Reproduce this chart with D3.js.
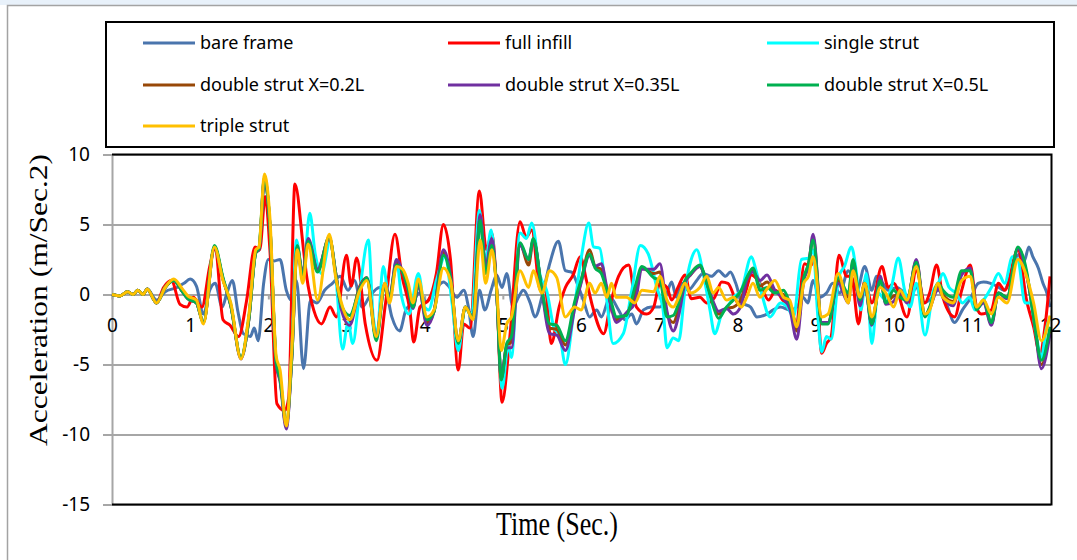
<!DOCTYPE html>
<html>
<head>
<meta charset="utf-8">
<script src="https://cdn.jsdelivr.net/npm/d3@7/dist/d3.min.js"></script>
<style>
    html, body {margin: 0; padding: 0; background: #fff;}
    #container {width: 1077px; height: 560px;}
    .tickLabel {font-family: 'Noto Sans', sans-serif; font-size: 19px; fill: #000;}
    .legendText {font-family: 'Noto Sans', sans-serif; font-size: 18px; fill: #000;}
    .axisTitle {font-family: 'Liberation Serif', 'Times New Roman', serif; fill: #000;}
</style>
</head>
<body>
<div id="container"></div>
<script>
// 刻度
const xTicks = [0, 1, 2, 3, 4, 5, 6, 7, 8, 9, 10, 11, 12];
const yTicks = [-15, -10, -5, 0, 5, 10];

// 系列名称
const seriesNames = [
    'bare frame', 'full infill', 'single strut',
    'double strut X=0.2L', 'double strut X=0.35L', 'double strut X=0.5L',
    'triple strut'
];

// bare frame: [time, acceleration]
const bareFrame = [
    [0, 0], [0.1, -0.1], [0.2, 0.2], [0.27, 0], [0.33, 0.3], [0.4, 0], [0.45, 0.4], [0.57, -0.4],
    [0.68, 0.2], [0.83, 0.5], [0.92, 0.8], [1.0, 1.1], [1.08, 0.6], [1.17, -1.4], [1.25, 0.3],
    [1.32, 0.8], [1.41, -0.9], [1.47, 0.1], [1.54, 1.0], [1.61, -1.2], [1.68, -2.8], [1.77, -3.0],
    [1.82, -2.4], [1.87, -3.3], [1.94, 0.8], [2.0, 2.5], [2.08, 2.4], [2.15, 2.5], [2.23, 0.3],
    [2.29, -0.4], [2.36, 1.0], [2.45, -5.3], [2.54, -0.4], [2.62, -0.6], [2.72, 0.3], [2.82, 0.8],
    [2.92, 1.3], [3.02, 0.3], [3.1, 1.0], [3.2, -0.9], [3.29, -0.2], [3.42, 0.5], [3.5, 0.3],
    [3.58, -1.6], [3.68, -2.6], [3.76, -1.1], [3.85, -0.6], [3.93, 0.1], [4.02, -0.5], [4.11, 0.1],
    [4.24, 0.9], [4.32, 0.5], [4.41, -0.2], [4.5, 0.3], [4.56, -0.9], [4.62, -3.0], [4.7, 0.3],
    [4.77, -1.1], [4.85, 0.3], [4.92, 1.4], [4.99, 0.5], [5.05, 1.5], [5.13, -0.9], [5.2, -0.2],
    [5.26, 0.3], [5.35, -0.6], [5.41, -1.6], [5.52, 0.3], [5.6, 2.2], [5.71, 3.8], [5.8, 1.7],
    [5.88, 1.6], [5.95, 0.8], [6.03, -0.4], [6.11, -1.6], [6.2, -1.1], [6.26, -1.6], [6.37, -0.2],
    [6.48, -1.1], [6.56, -1.8], [6.65, -1.4], [6.71, -2.1], [6.8, -1.1], [6.9, -0.9], [7.01, -0.9],
    [7.1, 0.1], [7.16, 0.9], [7.22, -0.2], [7.29, 0.8], [7.37, 0.3], [7.48, 1.0], [7.56, 1.5],
    [7.67, 1.3], [7.76, 1.7], [7.85, 1.3], [7.91, 1.6], [7.98, 0.8], [8.06, -0.6], [8.17, -0.9],
    [8.25, -1.6], [8.38, -1.4], [8.46, -1.1], [8.55, -0.9], [8.68, -1.1], [8.76, -0.9], [8.84, -0.2],
    [8.9, -0.6], [8.97, 1.0], [9.05, -0.2], [9.14, 0.1], [9.22, 0.8], [9.31, 0.1], [9.42, 1.7],
    [9.53, 0.3], [9.63, 2.0], [9.72, 0.3], [9.78, 1.3], [9.86, 0.8], [9.93, 0.3], [10.04, 0.5],
    [10.14, 0.1], [10.21, -0.2], [10.29, 0.5], [10.38, -0.6], [10.46, -0.4], [10.57, 0.3],
    [10.67, -0.6], [10.78, -2.0], [10.88, -1.1], [10.99, -0.2], [11.08, 0.8], [11.15, 0.9],
    [11.24, 0.8], [11.32, 0.6], [11.41, 0.3], [11.5, 1.3], [11.61, 2.9], [11.67, 2.4], [11.73, 3.4],
    [11.78, 2.7], [11.85, 1.9], [11.91, 0.8], [11.96, 0.1], [12.0, -0.9]
];

// full infill
const fullInfill = [
    [0, 0], [0.1, -0.1], [0.2, 0.2], [0.27, 0], [0.33, 0.3], [0.4, 0], [0.45, 0.4], [0.57, -0.6],
    [0.66, 0.5], [0.76, 1.0], [0.87, -0.7], [0.96, -0.9], [1.04, -0.2], [1.15, -0.9], [1.25, 2.0],
    [1.32, 3.4], [1.42, -1.8], [1.51, -2.2], [1.62, -3.0], [1.72, -0.5], [1.83, 3.4], [1.89, 3.2],
    [1.96, 7.0], [2.02, 3.2], [2.11, -7.8], [2.21, -8.3], [2.26, -7.4], [2.34, 7.9], [2.45, 3.2],
    [2.49, 1.3], [2.58, -1.1], [2.68, -2.1], [2.79, -0.9], [2.87, -1.6], [3.0, 2.8], [3.06, 0.6],
    [3.13, 2.6], [3.24, -2.1], [3.39, -4.7], [3.5, -0.6], [3.62, 4.3], [3.71, 1.3], [3.81, -1.1],
    [3.86, -3.4], [3.94, -0.9], [4.05, -0.4], [4.15, 1.5], [4.24, 5.0], [4.33, 2.5], [4.43, -5.4],
    [4.5, -2.1], [4.58, -2.4], [4.7, 7.4], [4.79, 3.2], [4.86, 4.4], [4.92, 0.4], [4.99, -7.7],
    [5.09, -3.0], [5.22, 5.2], [5.3, 4.1], [5.37, 4.6], [5.48, 0.3], [5.54, 0.5], [5.62, -3.5],
    [5.72, -0.9], [5.8, 0.5], [5.9, 1.4], [5.99, 2.7], [6.07, 1.0], [6.15, -0.9], [6.29, -2.8],
    [6.38, -0.6], [6.48, 1.3], [6.61, 2.1], [6.71, -0.9], [6.84, -1.4], [6.93, -0.9], [7.01, 0.8],
    [7.1, 0.5], [7.16, -0.4], [7.24, 0.5], [7.33, 1.4], [7.41, -0.3], [7.52, -0.2], [7.61, -0.6],
    [7.71, -0.2], [7.8, 0.9], [7.88, 0.8], [8.01, -0.6], [8.1, 0.1], [8.18, 1.4], [8.29, 0.8],
    [8.4, -0.4], [8.49, 0.3], [8.58, -0.4], [8.68, -0.9], [8.75, -2.1], [8.86, 2.2], [8.93, 2.0],
    [8.99, 2.5], [9.08, -4.2], [9.14, -3.5], [9.2, -3.0], [9.3, 2.8], [9.4, 1.3], [9.46, 1.3],
    [9.55, -2.1], [9.63, 1.0], [9.72, -0.6], [9.85, 2.0], [9.93, 0.5], [10.0, 0.8], [10.17, -1.6],
    [10.29, 1.7], [10.4, -0.6], [10.46, 0.1], [10.55, 2.1], [10.63, -0.2], [10.78, -1.6],
    [10.87, 0.3], [10.98, 2.1], [11.06, -0.9], [11.12, -1.4], [11.25, -1.1], [11.34, 0.8],
    [11.42, 0.3], [11.59, 3.2], [11.7, -0.4], [11.79, -2.3], [11.87, -4.2], [11.94, -2.1], [12.0, 1.3]
];

// single strut
const singleStrut = [
    [0, 0], [0.1, -0.1], [0.2, 0.2], [0.27, 0], [0.33, 0.3], [0.4, 0], [0.45, 0.4], [0.57, -0.6],
    [0.68, 0.5], [0.79, 1.0], [0.9, 0.3], [0.97, -0.2], [1.08, -0.5], [1.17, -2.0], [1.31, 3.4],
    [1.42, 1.1], [1.52, -0.7], [1.65, -4.5], [1.75, -1.6], [1.84, 3.0], [1.88, 3.3], [1.95, 8.3],
    [2.02, 5.0], [2.1, -4.8], [2.15, -6.0], [2.23, -9.4], [2.3, -4.0], [2.36, 3.9], [2.44, 1.0],
    [2.53, 5.8], [2.6, 2.9], [2.68, 1.5], [2.79, 3.8], [2.86, 1.5], [2.95, -3.9], [3.02, -2.0],
    [3.08, -3.5], [3.17, 0.3], [3.28, 3.9], [3.34, -1.5], [3.39, -2.8], [3.47, 2.0], [3.55, -0.4],
    [3.64, 2.5], [3.7, 0.0], [3.8, -1.4], [3.92, 1.5], [4.0, -0.9], [4.05, -1.1], [4.15, 1.0],
    [4.26, 2.7], [4.35, -0.6], [4.43, -4.0], [4.52, -0.9], [4.6, -1.6], [4.7, 6.0], [4.78, 2.4],
    [4.85, 4.6], [4.92, 0.3], [4.99, -6.7], [5.07, -3.6], [5.11, -4.5], [5.22, 4.4], [5.3, 4.0],
    [5.37, 5.1], [5.48, 1.3], [5.56, 0.3], [5.65, -2.3], [5.73, -3.0], [5.8, -5.0], [5.9, -1.6],
    [6.0, 2.5], [6.1, 5.1], [6.16, 3.4], [6.24, 3.3], [6.32, 0.1], [6.41, -3.5], [6.54, -2.8],
    [6.65, 0.3], [6.76, 3.5], [6.86, 2.9], [6.97, 0.5], [7.05, -1.1], [7.1, -3.8], [7.18, -3.1],
    [7.25, -3.3], [7.33, 0.3], [7.41, 2.5], [7.48, 3.2], [7.57, 1.3], [7.65, -1.1], [7.71, -2.8],
    [7.8, -1.4], [7.87, -0.9], [7.95, -0.2], [8.05, 0.3], [8.18, 2.7], [8.24, 1.7], [8.31, 0.1],
    [8.42, -1.6], [8.55, -0.6], [8.64, -0.9], [8.72, -1.6], [8.82, 2.5], [8.91, 2.6], [8.97, 3.2],
    [9.03, -1.6], [9.08, -4.1], [9.14, -3.0], [9.2, -3.2], [9.3, 1.3], [9.37, 2.0], [9.46, 3.4],
    [9.52, 1.7], [9.58, -1.1], [9.65, 1.5], [9.72, -3.5], [9.8, 0.1], [9.9, -0.4], [9.97, 0.5],
    [10.06, 2.6], [10.14, 0.3], [10.21, -0.9], [10.29, 0.8], [10.4, -2.9], [10.51, 0.3],
    [10.57, 0.8], [10.63, 1.5], [10.71, 0.5], [10.8, 0.1], [10.88, -0.6], [10.97, -0.2],
    [11.04, -1.1], [11.15, -0.4], [11.25, 0.5], [11.34, 1.5], [11.42, 0.8], [11.52, 2.7],
    [11.59, 2.5], [11.68, -0.6], [11.75, -0.6], [11.82, -2.8], [11.89, -4.5], [11.95, -2.5], [12.0, -1.6]
];

// 四条支撑曲线共用的时间点
const strutTime = [
    0, 0.1, 0.2, 0.27, 0.33, 0.4, 0.45, 0.57, 0.68, 0.79,
    0.9, 0.97, 1.08, 1.17, 1.31, 1.42, 1.52, 1.65, 1.75, 1.84,
    1.88, 1.95, 2.02, 2.1, 2.15, 2.23, 2.3, 2.37, 2.44, 2.51,
    2.63, 2.78, 2.86, 2.93, 3.04, 3.17, 3.26, 3.38, 3.49, 3.55,
    3.64, 3.72, 3.79, 3.85, 3.92, 4.03, 4.12, 4.24, 4.33, 4.43,
    4.52, 4.62, 4.71, 4.78, 4.86, 4.92, 4.98, 5.05, 5.11, 5.22,
    5.33, 5.39, 5.5, 5.6, 5.69, 5.8, 5.92, 6.0, 6.11, 6.18,
    6.26, 6.33, 6.39, 6.45, 6.58, 6.69, 6.78, 6.93, 7.01, 7.1,
    7.18, 7.25, 7.33, 7.4, 7.52, 7.61, 7.69, 7.76, 7.86, 7.95,
    8.05, 8.12, 8.2, 8.29, 8.38, 8.48, 8.59, 8.67, 8.76, 8.85,
    8.91, 8.97, 9.08, 9.16, 9.29, 9.42, 9.48, 9.57, 9.63, 9.72,
    9.83, 9.9, 10.0, 10.08, 10.17, 10.29, 10.4, 10.46, 10.57, 10.63,
    10.76, 10.87, 10.98, 11.06, 11.15, 11.25, 11.34, 11.45, 11.59, 11.7,
    11.79, 11.89, 12.0
];

const doubleStrut02 = [
    0, -0.1, 0.2, 0.0, 0.3, 0.0, 0.4, -0.6, 0.5, 1.0,
    0.2, -0.3, -0.6, -2.0, 3.4, 1.1, -0.8, -4.5, -1.8, 3.0,
    3.2, 8.3, 5.0, -4.9, -6.1, -9.4, -4.5, 3.2, 1.4, 3.9,
    1.7, 4.1, 1.6, -0.8, -1.8, 0.6, 1.2, -3.1, 0.7, -0.2,
    2.3, 1.6, 0.4, -0.9, 0.7, -2.0, -1.2, 3.0, 1.3, -3.4,
    -0.9, -1.7, 5.5, 1.8, 3.8, 0.4, -6.0, -3.6, -3.4, 3.6,
    2.1, 3.9, 0.3, -2.4, -2.5, -3.6, -0.8, 0.9, 3.2, 2.0,
    1.8, 0.4, -0.8, -1.8, -1.4, 0.0, 1.9, 1.5, 1.6, -1.4,
    -2.0, -1.0, 0.9, 1.4, 2.0, 0.8, -0.6, -1.4, -1.0, -0.9,
    -0.3, 1.1, 1.7, 0.6, 0.9, 0.2, 0.0, -0.8, -2.6, 1.1,
    2.1, 4.1, -2.0, -2.0, 1.0, -0.2, 2.4, -0.6, 0.8, -2.1,
    1.1, -0.6, -0.1, 0.0, -0.5, 2.4, -1.5, -1.0, 0.6, 0.0,
    -0.5, 1.5, 1.8, -1.0, -0.5, -2.1, 0.1, -0.2, 3.3, 1.5,
    -1.5, -5.0, -2.5
];

const doubleStrut035 = [
    0, -0.1, 0.2, 0.0, 0.3, 0.0, 0.4, -0.6, 0.5, 1.0,
    0.2, -0.3, -0.6, -2.0, 3.3, 1.1, -0.8, -4.6, -1.8, 3.0,
    3.2, 8.2, 5.0, -5.0, -6.2, -9.6, -4.6, 3.4, 1.5, 4.0,
    1.8, 4.0, 1.6, -1.0, -2.2, 0.5, 1.2, -3.0, 0.8, -0.2,
    2.5, 1.6, 0.3, -1.0, 0.6, -2.2, -1.2, 3.2, 1.4, -3.4,
    -0.9, -1.7, 5.7, 2.0, 4.0, 0.4, -5.9, -3.8, -3.8, 3.5,
    2.5, 3.9, 0.2, -2.8, -2.9, -4.0, -1.0, 0.8, 2.8, 2.0,
    2.2, 0.5, -1.0, -2.0, -1.3, -0.6, 1.8, 1.8, 2.2, -1.2,
    -2.6, -1.5, 0.8, 1.4, 2.0, 0.8, -0.5, -1.2, -1.0, -1.4,
    -0.8, 1.0, 1.6, 1.0, 1.4, 0.3, -0.3, -1.0, -3.2, 1.0,
    2.0, 4.3, -2.0, -2.0, 0.8, -0.6, 2.3, -0.8, 0.7, -2.2,
    1.3, -0.7, -0.5, 0.2, -0.6, 2.5, -1.5, -1.0, 0.4, -0.2,
    -0.8, 1.4, 1.9, -1.0, -0.6, -2.2, 0.1, -0.3, 3.3, 1.4,
    -1.4, -5.3, -2.8
];

const doubleStrut05 = [
    0, -0.1, 0.2, 0.0, 0.3, 0.0, 0.4, -0.6, 0.5, 1.0,
    0.2, -0.3, -0.6, -2.0, 3.5, 1.2, -0.8, -4.5, -1.8, 3.0,
    3.3, 8.4, 5.0, -4.8, -6.0, -9.2, -4.5, 3.5, 1.2, 3.8,
    1.6, 4.1, 1.5, -0.7, -1.5, 0.4, 1.2, -3.3, 0.6, -0.3,
    2.1, 1.6, 0.4, -0.9, 0.8, -1.8, -1.2, 2.8, 1.2, -3.5,
    -0.9, -1.7, 5.3, 1.5, 3.5, 0.4, -6.1, -3.5, -3.0, 3.7,
    2.5, 4.0, 0.3, -2.1, -2.2, -3.3, -0.5, 1.0, 2.9, 1.9,
    1.5, 0.3, -0.6, -1.6, -1.5, 0.5, 2.0, 1.2, 1.0, -1.6,
    -1.5, -0.6, 1.0, 1.5, 2.1, 0.8, -0.8, -1.7, -0.9, -0.4,
    0.3, 1.2, 1.9, 0.3, 0.5, 0.1, 0.3, -0.6, -2.1, 1.2,
    2.2, 3.9, -2.1, -2.1, 1.2, 0.1, 2.5, -0.4, 0.8, -2.1,
    1.0, -0.6, 0.3, -0.2, -0.4, 2.3, -1.6, -0.9, 0.8, 0.3,
    -0.2, 1.7, 1.7, -1.1, -0.4, -2.0, 0.1, -0.2, 3.4, 1.7,
    -1.6, -4.7, -2.3
];

const tripleStrut = [
    0, -0.1, 0.2, 0.0, 0.3, 0.0, 0.4, -0.6, 0.5, 1.1,
    0.4, -0.1, -0.4, -2.1, 3.4, 1.0, -0.6, -4.6, -1.5, 3.2,
    3.4, 8.6, 5.5, -4.4, -5.4, -9.4, -4.0, 3.2, 0.8, 3.6,
    -0.4, 4.3, 1.3, -0.5, -1.8, 0.3, 1.0, -3.0, 0.8, -0.6,
    2.0, 1.8, 0.8, -0.6, 1.1, -1.6, -1.1, 1.9, 1.0, -3.3,
    -0.9, -1.8, 3.9, 0.8, 3.2, 0.5, -4.0, -2.1, -1.6, 1.7,
    0.5, 1.7, 0.1, 1.7, 1.2, -1.6, -0.9, -1.1, 0.8, 0.1,
    0.8, -0.2, 0.8, -0.2, -0.2, -0.6, 0.3, 0.2, 1.3, -0.4,
    -0.9, -0.2, 0.8, 0.1, 0.5, 1.3, 0.1, 0.5, -0.4, -0.2,
    -0.9, -0.2, 0.8, -0.2, 0.4, 1.0, -0.2, -0.4, -2.3, 0.8,
    1.3, 2.7, -1.6, -1.4, 1.5, -0.6, 1.7, -0.2, 0.8, -1.6,
    0.5, 0.1, -0.9, 0.3, -0.4, 2.0, -1.4, -1.1, 0.8, -0.2,
    -0.6, 1.0, 1.3, -0.9, -0.4, -1.4, -0.2, -0.6, 2.5, 1.3,
    -0.6, -3.3, -1.5
];

const CONFIG = {
    width: 1077,
    height: 560,
    plot: {left: 112, right: 1050, top: 154.5, bottom: 504.5},
    colors: ['#4a75ad', '#ff0000', '#00ffff', '#984807', '#7030a0', '#00b050', '#ffc000'],
    gridColor: '#a6a6a6'
};

const strutPairs = values => strutTime.map((t, i) => [t, values[i]]);
const seriesData = [
    bareFrame, fullInfill, singleStrut,
    strutPairs(doubleStrut02), strutPairs(doubleStrut035), strutPairs(doubleStrut05),
    strutPairs(tripleStrut)
];

const svg = d3.select('#container')
    .append('svg')
    .attr('width', CONFIG.width)
    .attr('height', CONFIG.height);

// 外框
svg.append('rect')
    .attr('x', 0).attr('y', 0)
    .attr('width', CONFIG.width).attr('height', 5)
    .attr('fill', '#e8f1fa');
svg.append('path')
    .attr('d', `M7.5,${CONFIG.height}V5.5H${CONFIG.width}`)
    .attr('fill', 'none')
    .attr('stroke', '#a3a3a3')
    .attr('stroke-width', 1.5);

const p = CONFIG.plot;
const xScale = d3.scaleLinear().domain([0, 12]).range([p.left, p.right]);
const yScale = d3.scaleLinear().domain([-15, 10]).range([p.bottom, p.top]);
// 用普通连字符显示负号
const plainFormat = d => String(d);

// 网格线
const grid = svg.append('g')
    .attr('transform', `translate(${p.left},0)`)
    .call(d3.axisLeft(yScale).tickValues(yTicks).tickSize(-(p.right - p.left + 1)).tickFormat(''));
grid.select('.domain').remove();
grid.selectAll('.tick line').attr('stroke', CONFIG.gridColor).attr('stroke-width', 2);

// y轴
const yAxisG = svg.append('g')
    .attr('transform', `translate(${p.left},0)`)
    .call(d3.axisLeft(yScale).tickValues(yTicks).tickSize(9).tickPadding(13).tickFormat(plainFormat));
yAxisG.select('.domain').attr('stroke', CONFIG.gridColor).attr('stroke-width', 2);
yAxisG.selectAll('.tick line').attr('stroke', CONFIG.gridColor).attr('stroke-width', 2);
yAxisG.selectAll('.tick text').attr('class', 'tickLabel').attr('font-family', null).attr('font-size', null);

// x轴（位于 y=0）
const xAxisG = svg.append('g')
    .attr('transform', `translate(0,${yScale(0)})`)
    .call(d3.axisBottom(xScale).tickValues(xTicks).tickSize(5).tickPadding(19).tickFormat(plainFormat));
xAxisG.select('.domain').remove();
xAxisG.selectAll('.tick line').attr('stroke', CONFIG.gridColor).attr('stroke-width', 2);
xAxisG.selectAll('.tick text').attr('class', 'tickLabel').attr('font-family', null).attr('font-size', null);

// 曲线
const line = d3.line()
    .x(d => xScale(d[0]))
    .y(d => yScale(d[1]))
    .curve(d3.curveMonotoneX);
svg.append('g')
    .selectAll('path')
    .data(seriesData)
    .join('path')
    .attr('d', line)
    .attr('fill', 'none')
    .attr('stroke', (d, i) => CONFIG.colors[i])
    .attr('stroke-width', 3)
    .attr('stroke-linejoin', 'round');

// 绘图区边框（上、右、下）
svg.append('path')
    .attr('d', `M${p.left},${p.top}H${p.right + 1.5}V${p.bottom}H${p.left}`)
    .attr('fill', 'none')
    .attr('stroke', '#000')
    .attr('stroke-width', 2);

// 坐标轴标题
svg.append('text')
    .attr('class', 'axisTitle')
    .attr('text-anchor', 'middle')
    .attr('font-size', 25)
    .attr('transform', 'translate(47,300) rotate(-90) scale(1.26,1)')
    .text('Acceleration (m/Sec.2)');
svg.append('text')
    .attr('class', 'axisTitle')
    .attr('text-anchor', 'middle')
    .attr('font-size', 26)
    .attr('transform', 'translate(557,535) scale(1,1.26)')
    .text('Time (Sec.)');

// 图例
svg.append('rect')
    .attr('x', 106).attr('y', 22)
    .attr('width', 948).attr('height', 125)
    .attr('fill', '#fff')
    .attr('stroke', '#000')
    .attr('stroke-width', 2);
const legendCols = [143, 448, 767];
const legendRows = [43, 85, 126];
const legend = svg.append('g')
    .selectAll('g')
    .data(seriesNames)
    .join('g')
    .attr('transform', (d, i) => `translate(${legendCols[i % 3]},${legendRows[Math.floor(i / 3)]})`);
legend.append('line')
    .attr('x1', 0).attr('x2', 52)
    .attr('stroke', (d, i) => CONFIG.colors[i])
    .attr('stroke-width', 3);
legend.append('text')
    .attr('class', 'legendText')
    .attr('x', 57)
    .attr('dy', '0.35em')
    .text(d => d);
</script>
</body>
</html>
